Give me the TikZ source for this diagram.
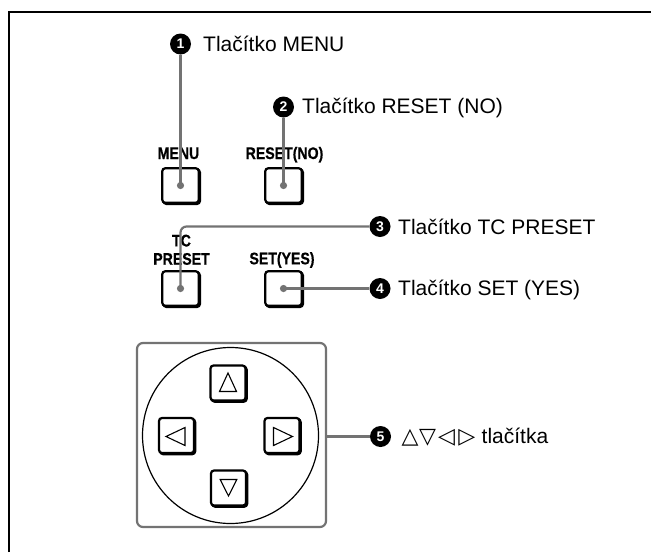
\documentclass[tikz,border=0pt]{standalone}
\usepackage{fontspec}
\setmainfont{Liberation Sans}
\newfontfamily\condfont[FakeStretch=0.84, BoldFeatures={FakeBold=0.6}]{Liberation Sans}
\newfontfamily\symfont{DejaVu Sans}
\definecolor{leadgray}{gray}{0.45}
\begin{document}
\begin{tikzpicture}[x=1pt,y=-1pt,
  lead/.style={draw=leadgray, line width=2.2pt},
  btnbox/.style={draw, line width=2.2pt, rounded corners=3pt, fill=white,
    inner sep=0pt, outer sep=0pt,
    preaction={draw, line width=2.2pt, transform canvas={shift={(1.2pt,-1.2pt)}}}},
  topbtn/.style={btnbox, minimum width=36.5pt, minimum height=34.5pt},
  arrbtn/.style={btnbox, minimum width=35pt, minimum height=35pt},
  btnlabel/.style={font=\condfont\bfseries\fontsize{16.8}{18.3}\selectfont, inner sep=0pt},
  callout/.style={circle, fill=black, text=white, minimum size=21pt, inner sep=0pt,
    font=\bfseries\fontsize{14}{14}\selectfont},
  caption/.style={anchor=base west, inner sep=0pt, font=\fontsize{21}{24}\selectfont},
  tri/.style={draw, line width=1.1pt, line join=miter}]
\useasboundingbox (0,0) rectangle (651,552);

% page frame (top and left rules)
\draw[line width=2.4pt] (9.2,552) -- (9.2,12.2) -- (651,12.2);

% upper buttons
\node[topbtn] (menu)   at (180.5,185.5) {};
\node[topbtn] (reset)  at (283.5,185.5) {};
\node[topbtn] (tcp)    at (180.5,288.5) {};
\node[topbtn] (setyes) at (283.5,288.5) {};

\node[btnlabel, anchor=base] (menulbl)  at (178.5,159) {MENU};
\node[btnlabel, anchor=base] (resetlbl) at (284.5,159) {RESET(NO)};
\node[btnlabel, anchor=north, align=center] (tcplbl) at (181.5,234.5) {TC\\PRESET};
\node[btnlabel, anchor=base] (setlbl)   at (282,264.3) {SET(YES)};

% arrow pad
\node[draw=leadgray, line width=2.2pt, rounded corners=6pt, minimum width=189pt,
  minimum height=184pt, inner sep=0pt] (panel) at (231.5,435) {};
\node[draw, circle, line width=1.2pt, minimum size=176pt, inner sep=0pt] (ring) at (230.5,435.5) {};

\node[arrbtn] (up)    at (228,383)    {};
\node[arrbtn] (down)  at (228.5,488)  {};
\node[arrbtn] (left)  at (176.5,435.5) {};
\node[arrbtn] (right) at (282,435.5)  {};

\draw[tri, shift={(up.center)}]    (0,-10) -- (8.5,8.5) -- (-8.5,8.5) -- cycle;
\draw[tri, shift={(down.center)}]  (0,8)   -- (8.3,-8.5) -- (-8.3,-8.5) -- cycle;
\draw[tri, shift={(left.center)}]  (-10.5,1) -- (8.5,-8) -- (8.5,10) -- cycle;
\draw[tri, shift={(right.center)}] (10.5,1) -- (-8.5,-8) -- (-8.5,10) -- cycle;

% numbered callouts and their captions
\node[callout] (b1) at (180.5,44)  {1};
\node[callout] (b2) at (283.5,107) {2};
\node[callout] (b3) at (380,226.5) {3};
\node[callout] (b4) at (380,288.5) {4};
\node[callout] (b5) at (380.5,436.5) {5};

\node[caption] (c1) at (203,51)    {Tlačítko MENU};
\node[caption] (c2) at (302,113.5) {Tlačítko RESET (NO)};
\node[caption] (c3) at (398,234)   {Tlačítko TC PRESET};
\node[caption] (c4) at (398,295.5) {Tlačítko SET (YES)};
\node[caption] (c5) at (401.5,443.5)
  {{\symfont\fontsize{22}{24}\selectfont △\kern0.5pt▽\kern2pt◁\kern3.5pt▷}\kern0.5pt{} tlačítka};

% leader lines
\draw[lead] (menu.center) -- (b1.south);
\draw[lead] (reset.center) -- (b2.south);
\draw[lead, rounded corners=6pt] (tcp.center) |- (b3.west);
\draw[lead] (setyes.center) -- (b4.west);
\draw[lead] (panel.east |- b5.west) -- (b5.west);

\foreach \b in {menu,reset,tcp,setyes}
  \fill[leadgray] (\b.center) circle (3.6pt);
\end{tikzpicture}
\end{document}
